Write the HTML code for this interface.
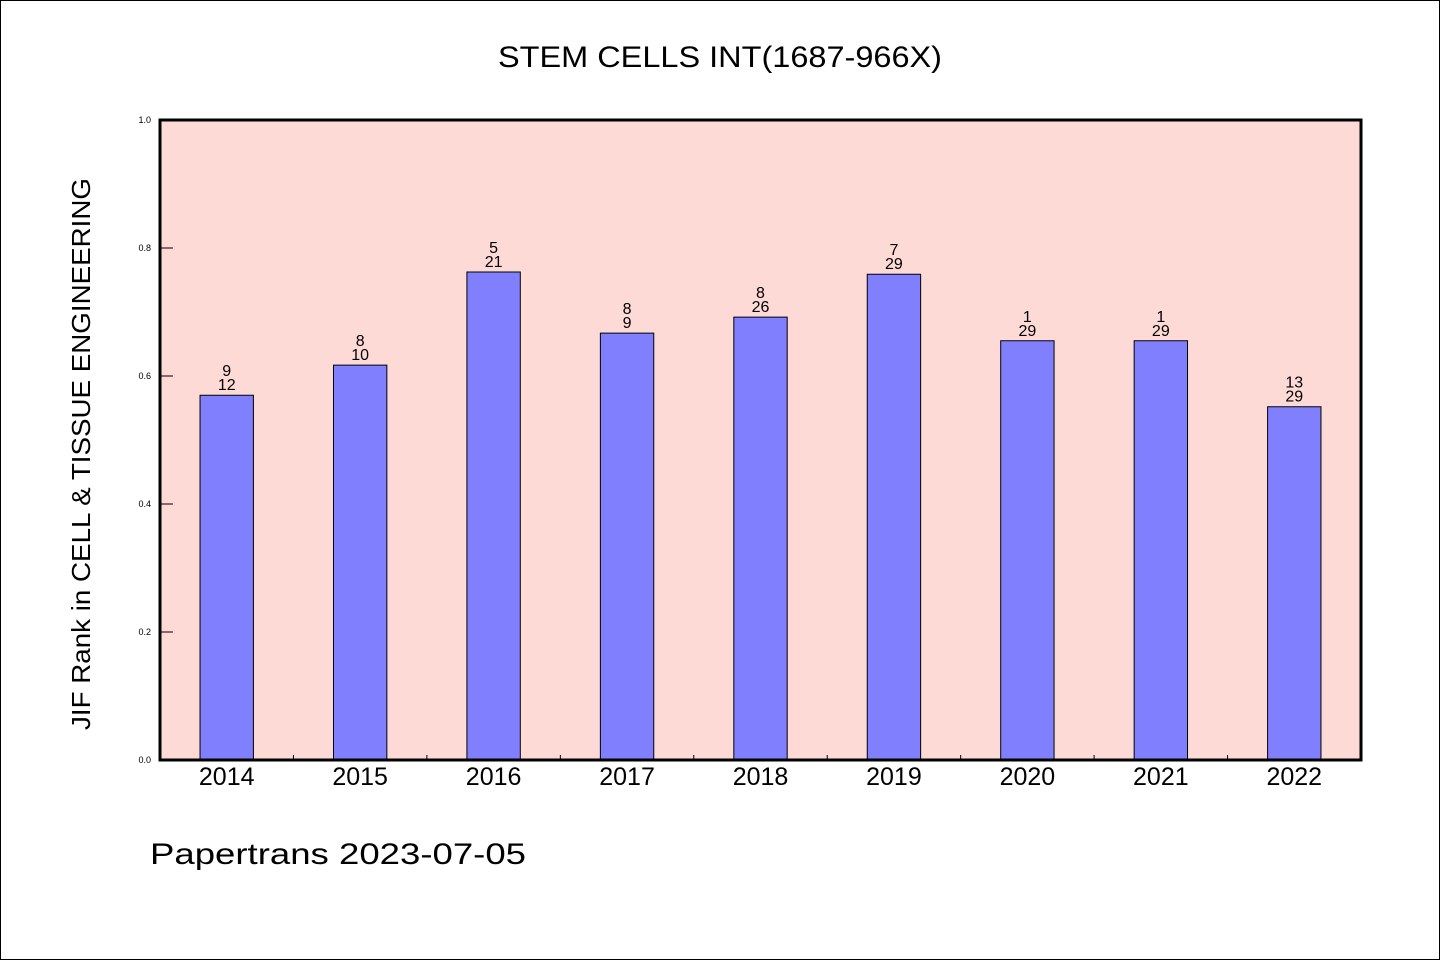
<!DOCTYPE html>
<html><head><meta charset="utf-8"><style>body{margin:0;background:#fff}svg{display:block}text{font-family:"WenQuanYi Zen Hei","Liberation Sans",sans-serif;fill:#000}</style></head>
<body>
<svg id="chart" width="1440" height="960" viewBox="0 0 1440 960" xmlns="http://www.w3.org/2000/svg">
<rect x="0.5" y="0.5" width="1439" height="959" fill="#fff" stroke="#000" stroke-width="1"/>
<text x="498" y="67" font-size="30" textLength="444" lengthAdjust="spacingAndGlyphs">STEM CELLS INT(1687-966X)</text>
<rect x="160" y="120" width="1201" height="640" fill="#fedad7"/>
<g id="bars"></g>
<g id="ticks"></g>
<rect x="160" y="120" width="1201" height="640" fill="none" stroke="#000" stroke-width="3"/>
<text transform="translate(90,730) rotate(-90)" font-size="26" textLength="552" lengthAdjust="spacingAndGlyphs">JIF Rank in CELL &amp; TISSUE ENGINEERING</text>
<text x="150" y="864" font-size="30" textLength="376" lengthAdjust="spacingAndGlyphs">Papertrans 2023-07-05</text>
</svg>
<script>
const categories=["2014","2015","2016","2017","2018","2019","2020","2021","2022"];
const values=[0.570,0.617,0.7625,0.667,0.692,0.759,0.655,0.655,0.552];
const ranks=["9","8","5","8","8","7","1","1","13"];
const totals=["12","10","21","9","26","29","29","29","29"];
const yTicks=[0,0.2,0.4,0.6,0.8,1.0];
const yTickLabels=["0.0","0.2","0.4","0.6","0.8","1.0"];
const NS="http://www.w3.org/2000/svg";
const X0=160,W=1201,Y0=760,H=640;
const band=W/categories.length;
const xc=i=>X0+band*(i+0.5);
const ys=v=>Y0-v*H;
function mk(t,a,p){const e=document.createElementNS(NS,t);for(const k in a)e.setAttribute(k,a[k]);p.appendChild(e);return e;}
const gb=document.getElementById('bars'),gt=document.getElementById('ticks');
const bw=band*0.4;
categories.forEach((c,i)=>{
  const top=ys(values[i]);
  const r=mk('path',{d:`M${xc(i)-bw/2},${Y0} V${top} H${xc(i)+bw/2} V${Y0}`,fill:'#8080ff',stroke:'#000','stroke-width':1},gb);
  
  
  const t1=mk('text',{x:xc(i),y:top-19,'font-size':16,'text-anchor':'middle'},gb);t1.textContent=ranks[i];
  
  
  const t2=mk('text',{x:xc(i),y:top-5,'font-size':16,'text-anchor':'middle'},gb);t2.textContent=totals[i];
  
  
  const xl=mk('text',{x:xc(i),y:785,'font-size':25,'text-anchor':'middle'},gt);xl.textContent=c;
  
  
  if(i>0){const tk=mk('line',{x1:X0+band*i,x2:X0+band*i,y1:Y0,y2:Y0-5,stroke:'#000','stroke-width':1},gt);
  
  }
});
yTicks.forEach((v,i)=>{
  const l=mk('line',{x1:X0,x2:X0+13,y1:ys(v),y2:ys(v),stroke:'#000','stroke-width':1},gt);
  
  
  const t=mk('text',{x:151,y:ys(v)+3,'font-size':9,'text-anchor':'end'},gt);t.textContent=yTickLabels[i];
  
  
});
</script>
</body></html>
